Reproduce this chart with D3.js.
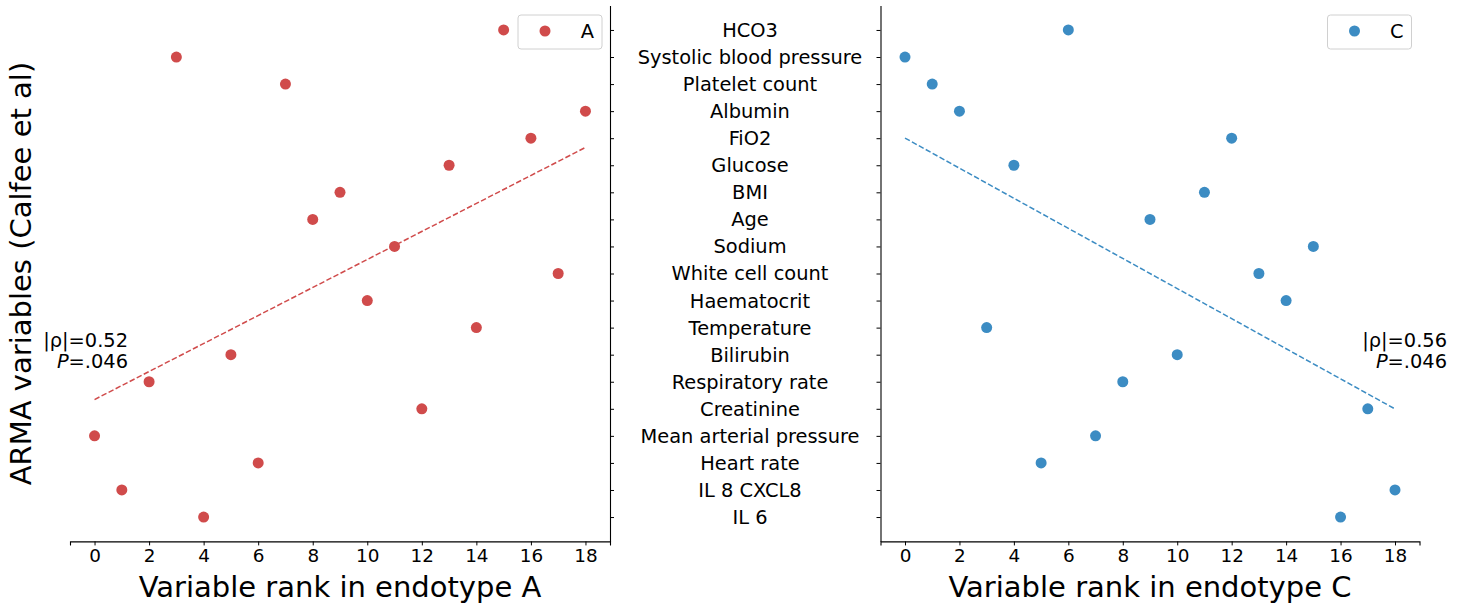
<!DOCTYPE html>
<html>
<head>
<meta charset="utf-8">
<script src="https://cdn.jsdelivr.net/npm/d3@7"></script>
<style>
  body { margin: 0; background: #fff; }
  svg { font-family: "DejaVu Sans", sans-serif; }
</style>
</head>
<body>
<div id="container"></div>
<script>
// categories, top to bottom as drawn
const variables = ["HCO3", "Systolic blood pressure", "Platelet count", "Albumin", "FiO2",
  "Glucose", "BMI", "Age", "Sodium", "White cell count", "Haematocrit", "Temperature",
  "Bilirubin", "Respiratory rate", "Creatinine", "Mean arterial pressure", "Heart rate",
  "IL 8 CXCL8", "IL 6"];
// rank of each variable in endotype A / C (same order as above)
const rankA = [15, 3, 7, 18, 16, 13, 9, 8, 11, 17, 10, 14, 5, 2, 12, 0, 6, 1, 4];
const rankC = [6, 0, 1, 2, 12, 4, 11, 9, 15, 13, 14, 3, 10, 8, 17, 7, 5, 18, 16];
const xTicks = [0, 2, 4, 6, 8, 10, 12, 14, 16, 18];
const statsA = ["|ρ|=0.52", ".046"];
const statsC = ["|ρ|=0.56", ".046"];

const W = 1465, H = 607;
const red = "#d04b4b", blue = "#3c8cc3";

const svg = d3.select("#container").append("svg")
  .attr("width", W).attr("height", H);

const yTop = 5.6, yBottom = 541.4;
// y index: IL 6 = 0 at bottom, HCO3 = 18 at top
const y = d3.scaleLinear().domain([-0.9, 18.9]).range([yBottom, yTop]);
const yIdx = i => variables.length - 1 - i;

// least squares fit of the row index on the rank
const fit = ranks => {
  const xs = ranks, ys = ranks.map((r, i) => yIdx(i));
  const mx = d3.mean(xs), my = d3.mean(ys);
  const b = d3.sum(xs, (v, i) => (v - mx) * (ys[i] - my)) / d3.sum(xs, v => (v - mx) ** 2);
  return x => my + b * (x - mx);
};

const panel = (ranks, x0, x1, color, name, side, stats, statX) => {
  const x = d3.scaleLinear().domain([-0.9, 18.9]).range([x0, x1]);
  const g = svg.append("g");

  // bottom axis
  const xa = g.append("g").attr("transform", `translate(0,${yBottom})`)
    .call(d3.axisBottom(x).tickValues(xTicks).tickSizeOuter(0).tickSize(4).tickPadding(4));
  xa.select(".domain").attr("stroke", "#000").attr("stroke-width", 1.1);
  xa.selectAll("text").attr("font-size", 18.4).attr("fill", "#000")
    .attr("font-family", "DejaVu Sans");

  // side spine with row ticks
  const ya = side === "right"
    ? d3.axisRight(y).tickValues(d3.range(19)).tickFormat("").tickSize(4).tickSizeOuter(0)
    : d3.axisLeft(y).tickValues(d3.range(19)).tickFormat("").tickSize(4).tickSizeOuter(0);
  const yg = g.append("g").attr("transform", `translate(${side === "right" ? x1 : x0},0)`).call(ya);
  yg.select(".domain").attr("stroke", "#000").attr("stroke-width", 1.1);

  // fit line
  const f = fit(ranks);
  g.append("line")
    .attr("x1", x(0)).attr("y1", y(f(0)))
    .attr("x2", x(18)).attr("y2", y(f(18)))
    .attr("stroke", color).attr("stroke-width", 1.5)
    .attr("stroke-dasharray", "5.5,2.4");

  // points
  g.selectAll("circle.pt").data(ranks).enter().append("circle")
    .attr("class", "pt")
    .attr("cx", d => x(d))
    .attr("cy", (d, i) => y(yIdx(i)))
    .attr("r", 5.5)
    .attr("fill", color);

  // x label
  g.append("text").attr("x", (x0 + x1) / 2).attr("y", 597)
    .attr("text-anchor", "middle").attr("font-size", 29)
    .text("Variable rank in endotype " + name);

  // legend
  const lx = x1 - 92, ly = 15;
  g.append("rect").attr("x", lx).attr("y", ly).attr("width", 84).attr("height", 34)
    .attr("rx", 3).attr("fill", "#fff").attr("stroke", "#d0d0d0");
  g.append("circle").attr("cx", lx + 27).attr("cy", ly + 16).attr("r", 5.5).attr("fill", color);
  g.append("text").attr("x", lx + 76).attr("y", ly + 23).attr("text-anchor", "end")
    .attr("font-size", 19.4).text(name);

  // stats
  g.append("text").attr("x", statX).attr("y", 347).attr("text-anchor", "end")
    .attr("font-size", 19.4).text(stats[0]);
  const t = g.append("text").attr("x", statX).attr("y", 368).attr("text-anchor", "end")
    .attr("font-size", 19.4);
  t.append("tspan").attr("font-style", "italic").text("P");
  t.append("tspan").text("=" + stats[1]);
};

panel(rankA, 70, 610, red, "A", "right", statsA, 128);
panel(rankC, 880.5, 1419.5, blue, "C", "left", statsC, 1447);

// row labels in the middle
svg.append("g").selectAll("text").data(variables).enter().append("text")
  .attr("x", 750)
  .attr("y", (d, i) => y(yIdx(i)))
  .attr("dy", "0.36em")
  .attr("text-anchor", "middle")
  .attr("font-size", 19.4)
  .text(d => d);

// y label
svg.append("text")
  .attr("transform", `translate(31,${(yTop + yBottom) / 2}) rotate(-90)`)
  .attr("text-anchor", "middle")
  .attr("font-size", 29)
  .text("ARMA variables (Calfee et al)");
</script>
</body>
</html>
